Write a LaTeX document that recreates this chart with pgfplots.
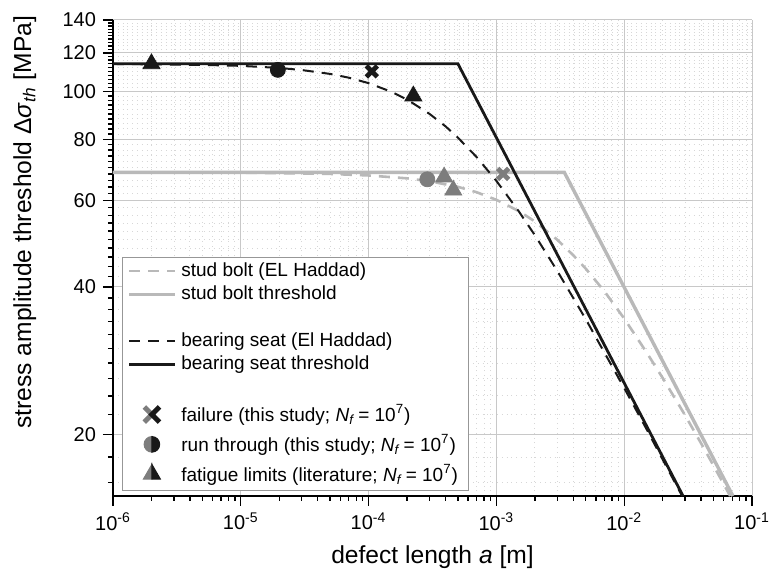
\documentclass[border=0pt]{standalone}
\usepackage{fontspec}
\setmainfont{Liberation Sans}
\usepackage{pgfplots}
\pgfplotsset{compat=1.18}
\usetikzlibrary{calc}
\definecolor{lgray}{RGB}{185,185,185}
\definecolor{mgray}{RGB}{125,125,125}
\definecolor{dblack}{RGB}{25,25,25}
\definecolor{gridc}{RGB}{200,200,200}
\definecolor{mgridc}{RGB}{215,215,215}
\begin{document}
\begin{tikzpicture}
\begin{axis}[
  scale only axis, width=319.5pt, height=238pt,
  xmode=log, ymode=log,
  xmin=1e-6, xmax=1e-1, ymin=15, ymax=140,
  axis x line*=bottom, axis y line*=left,
  axis line style={line width=0.9pt, -},
  xtick={1e-6,1e-5,1e-4,1e-3,1e-2,1e-1},
  xticklabels={10\textsuperscript{-6},10\textsuperscript{-5},10\textsuperscript{-4},10\textsuperscript{-3},10\textsuperscript{-2},10\textsuperscript{-1}},
  minor xtick={2e-6,3e-6,4e-6,5e-6,6e-6,7e-6,8e-6,9e-6,2e-5,3e-5,4e-5,5e-5,6e-5,7e-5,8e-5,9e-5,2e-4,3e-4,4e-4,5e-4,6e-4,7e-4,8e-4,9e-4,2e-3,3e-3,4e-3,5e-3,6e-3,7e-3,8e-3,9e-3,2e-2,3e-2,4e-2,5e-2,6e-2,7e-2,8e-2,9e-2},
  ytick={20,40,60,80,100,120,140},
  yticklabels={20,40,60,80,100,120,140},
  minor ytick={16,18,22,24,26,28,30,32,34,36,38,42,44,46,48,50,52,54,56,58,62,64,66,68,70,72,74,76,78,82,84,86,88,90,92,94,96,98,102,104,106,108,110,112,114,116,118,122,124,126,128,130,132,134,136,138},
  tick align=outside,
  major tick length=5pt, minor tick length=2.5pt,
  every tick/.style={black, line width=0.7pt},
  grid=both,
  major grid style={gridc, line width=0.5pt},
  minor grid style={mgridc, dotted, line width=0.45pt},
  tick label style={font=\fontsize{10}{12}\selectfont},
  xlabel={defect length \textit{a} [m]},
  ylabel={stress amplitude threshold Δ\textit{σ}\textsubscript{\textit{th}} [MPa]},
  label style={font=\fontsize{12.3}{14}\selectfont},
  xlabel style={at={(axis description cs:0.5,-0.128)}, anchor=center},
  ylabel style={at={(axis description cs:-0.138,0.575)}, anchor=center},
  legend style={at={(0.014,0.502)}, anchor=north west, draw=mgray!80, line width=0.5pt, fill=white,
    font=\fontsize{9.5}{11}\selectfont, row sep=3.3pt, nodes={inner xsep=2.5pt, inner ysep=0pt}, inner xsep=2.5pt, inner ysep=2.6pt},
  legend cell align=left,
  legend image code/.code={\draw[mark repeat=2,mark phase=2,#1] plot coordinates {(0cm,0cm) (0.4cm,0cm) (0.8cm,0cm)};},
]
% stud bolt El Haddad
\addplot[lgray, line width=1.3pt, dash pattern=on 5.5pt off 4pt, forget plot] coordinates {
(1e-6,68.5) (1e-5,68.4) (5e-5,68.0) (1e-4,67.5) (2e-4,66.6) (3e-4,65.7) (5e-4,64.0) (7e-4,62.4) (1e-3,60.2) (1.5e-3,57.1) (2e-3,54.4) (3e-3,49.9) (4e-3,46.4) (5e-3,43.6) (7e-3,39.2) (1e-2,34.5) (1.5e-2,29.4) (2e-2,26.1) (3e-2,21.9) (4e-2,19.2) (5e-2,17.3) (6.75e-2,15.0)};
% stud bolt threshold
\addplot[lgray, line width=1.7pt, forget plot] coordinates {(1e-6,68.5) (3.4e-3,68.5) (7.09e-2,15)};
% bearing seat El Haddad
\addplot[dblack, line width=1pt, dash pattern=on 5.5pt off 4pt, forget plot] coordinates {
(1e-6,113.9) (5e-6,113.4) (1e-5,112.9) (2e-5,111.8) (3e-5,110.7) (5e-5,108.7) (7e-5,106.8) (1e-4,104.1) (1.5e-4,100.0) (2e-4,96.4) (3e-4,90.1) (4e-4,85.0) (5e-4,80.6) (7e-4,73.6) (1e-3,65.8) (1.5e-3,57.0) (2e-3,51.0) (3e-3,43.1) (5e-3,34.4) (7e-3,29.4) (1e-2,24.9) (1.5e-2,20.5) (2e-2,17.8) (2.84e-2,15.0)};
% stud bolt markers
\addplot[only marks, mark=*, mark size=3.75pt, mgray, forget plot] coordinates {(2.88e-4,66.3)};
\addplot[only marks, mark=triangle*, mark size=4.9pt, mgray, forget plot] coordinates {(3.9e-4,67) (4.6e-4,63)};
\addplot[only marks, mark=x, mark size=3.9pt, line width=2.4pt, mgray, forget plot] coordinates {(1.13e-3,68)};
% bearing seat threshold
\addplot[dblack, line width=1.4pt, forget plot] coordinates {(1e-6,114) (5e-4,114) (2.888e-2,15)};
% bearing seat markers
\addplot[only marks, mark=triangle*, mark size=4.9pt, dblack, forget plot] coordinates {(2e-6,114) (2.24e-4,98)};
\addplot[only marks, mark=*, mark size=3.75pt, dblack, forget plot] coordinates {(1.95e-5,110.8)};
\addplot[only marks, mark=x, mark size=3.9pt, line width=2.4pt, dblack, forget plot] coordinates {(1.06e-4,110)};
% legend
\addlegendimage{lgray, line width=1.3pt, dash pattern=on 5.5pt off 4pt}
\addlegendentry{stud bolt (EL Haddad)}
\addlegendimage{lgray, line width=1.7pt}
\addlegendentry{stud bolt threshold}
\addlegendimage{empty legend}
\addlegendentry{\vphantom{(}}
\addlegendimage{dblack, line width=1pt, dash pattern=on 5.5pt off 4pt}
\addlegendentry{bearing seat (El Haddad)}
\addlegendimage{dblack, line width=1.4pt}
\addlegendentry{bearing seat threshold}
\addlegendimage{empty legend}
\addlegendentry{\vphantom{(}}
\addlegendimage{legend image code/.code={
  \path[draw=none, fill=none] (0.4cm,-5.8pt) rectangle (0.4cm,5.8pt);
  \draw[mgray, line width=2.5pt] (0.4cm-3.8pt,3.8pt) -- (0.4cm,0pt) -- (0.4cm-3.8pt,-3.8pt);
  \draw[dblack, line width=2.5pt] (0.4cm+3.8pt,3.8pt) -- (0.4cm,0pt) -- (0.4cm+3.8pt,-3.8pt);}}
\addlegendentry{failure (this study; \textit{N}\textsubscript{\textit{f}}\,= 10\textsuperscript{7})}
\addlegendimage{legend image code/.code={
  \path[draw=none, fill=none] (0.4cm,-5.8pt) rectangle (0.4cm,5.8pt);
  \fill[mgray] (0.4cm,3.9pt) arc[start angle=90,end angle=270,radius=3.9pt] -- cycle;
  \fill[dblack] (0.4cm,3.9pt) arc[start angle=90,end angle=-90,radius=3.9pt] -- cycle;}}
\addlegendentry{run through (this study; \textit{N}\textsubscript{\textit{f}}\,= 10\textsuperscript{7})}
\addlegendimage{legend image code/.code={
  \path[draw=none, fill=none] (0.4cm,-5.8pt) rectangle (0.4cm,5.8pt);
  \fill[mgray] (0.4cm,4.9pt) -- (0.4cm-4.24pt,-2.45pt) -- (0.4cm,-2.45pt) -- cycle;
  \fill[dblack] (0.4cm,4.9pt) -- (0.4cm+4.24pt,-2.45pt) -- (0.4cm,-2.45pt) -- cycle;}}
\addlegendentry{fatigue limits (literature; \textit{N}\textsubscript{\textit{f}}\,= 10\textsuperscript{7})}
\end{axis}
\pgfresetboundingbox
\path ($(current axis.south west)+(-56.5pt,-39pt)$) rectangle ($(current axis.south west)+(330.5pt,248pt)$);
\end{tikzpicture}
\end{document}
